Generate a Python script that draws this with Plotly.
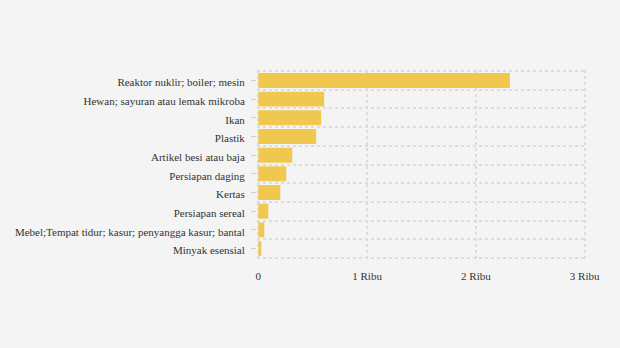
import plotly.graph_objects as go

# Product categories (top to bottom) and their values
categories = [
    "Reaktor nuklir; boiler; mesin",
    "Hewan; sayuran atau lemak mikroba",
    "Ikan",
    "Plastik",
    "Artikel besi atau baja",
    "Persiapan daging",
    "Kertas",
    "Persiapan sereal",
    "Mebel;Tempat tidur; kasur; penyangga kasur; bantal",
    "Minyak esensial",
]
values = [2312, 605, 578, 532, 312, 257, 202, 92, 55, 28]

x_tickvals = [0, 1000, 2000, 3000]
x_ticktext = ["0", "1 Ribu", "2 Ribu", "3 Ribu"]

grid_color = "#dcdcdc"
grid_dash = "3px,3px"
font = dict(family="Times New Roman, Liberation Serif, DejaVu Serif, serif", size=11, color="#333333")

fig = go.Figure()
fig.add_trace(go.Bar(
    x=values,
    y=categories,
    orientation="h",
    marker=dict(color="#F0C850", line=dict(width=0)),
    width=0.8,
    hoverinfo="x+y",
))
# Invisible helper trace on an overlaid numeric axis that carries the row-boundary grid
fig.add_trace(go.Scatter(
    x=[None], y=[None], yaxis="y2", showlegend=False, hoverinfo="skip",
))

n = len(categories)
# ranges padded a little so the outer grid lines are not clipped at the plot edge
y_range = [-0.56, n - 0.44]
fig.update_layout(
    width=620, height=348,
    paper_bgcolor="#f4f4f4", plot_bgcolor="#f4f4f4",
    margin=dict(l=257, r=34, t=70, b=89),
    font=font,
    showlegend=False,
    bargap=0.2,
    xaxis=dict(
        range=[-12, 3012],
        tickvals=x_tickvals, ticktext=x_ticktext,
        showgrid=True, gridcolor=grid_color, griddash=grid_dash, gridwidth=1.5,
        zeroline=False, showline=False,
        ticks="outside", ticklen=7, tickcolor="rgba(0,0,0,0)",
        tickfont=font,
    ),
    yaxis=dict(
        type="category",
        categoryorder="array", categoryarray=categories[::-1],
        range=y_range,
        showgrid=False, zeroline=False, showline=False,
        ticks="outside", ticklen=5, tickcolor="#d0d0d0", tickwidth=1,
        ticklabelstandoff=4,
        ticklabelshift=2,
        tickfont=font,
    ),
    yaxis2=dict(
        overlaying="y", side="left",
        range=y_range,
        tickvals=[i - 0.5 for i in range(n + 1)],
        showticklabels=False, ticks="",
        showgrid=True, gridcolor=grid_color, griddash=grid_dash, gridwidth=1.5,
        zeroline=False, showline=False,
    ),
)

fig.write_html("out.html")
